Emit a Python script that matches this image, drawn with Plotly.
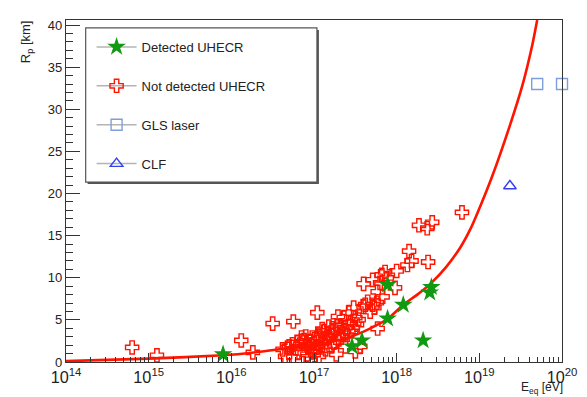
import plotly.graph_objects as go

# ---- data ----
curve_log10E = [14.0, 15.0, 15.9, 16.25, 16.6, 17.0, 17.38, 17.6, 17.89, 18.08, 18.25,
                18.42, 18.6, 18.77, 18.9, 19.02, 19.15, 19.37, 19.52, 19.64, 19.70]
curve_rp = [0.1, 0.4, 0.8, 1.1, 1.55, 2.0, 2.8, 3.6, 5.1, 6.8, 8.0,
            9.4, 11.3, 13.6, 15.95, 18.7, 21.9, 28.1, 32.8, 37.6, 40.6]

detected_log10E = [15.90, 17.46, 17.58, 17.89, 18.08, 17.89, 18.32, 18.42, 18.40]
detected_rp = [0.91, 1.85, 2.56, 5.15, 6.80, 9.16, 2.56, 8.89, 8.25]

notdet_log10E = [14.80, 15.10, 16.12, 16.26, 16.50, 16.75, 17.04,
                 16.62, 16.68, 16.74, 16.80, 16.85, 16.90, 16.98, 17.06, 17.12, 17.18,
                 16.86, 16.94, 17.02, 17.10, 17.18, 17.21, 17.26, 17.30, 17.33,
                 16.92, 16.82, 16.98, 17.06, 17.14, 17.21, 17.38, 17.50,
                 17.42, 17.50, 17.44, 17.38, 17.45, 17.54, 17.60,
                 16.75, 16.96, 17.27, 16.65, 17.56, 17.77,
                 17.48, 17.65, 17.71, 17.62, 17.76, 17.73, 17.68,
                 17.60, 17.71, 17.82, 17.86, 17.88, 17.80, 17.98, 17.77, 17.83,
                 18.00, 18.13, 18.15, 18.18, 18.38, 18.27, 18.37, 18.43, 18.79,
                 17.36, 17.52, 17.32, 17.29, 16.70, 16.99,
                 16.88, 16.95, 17.03, 17.08, 17.15, 17.00, 16.92, 17.13, 17.24,
                 17.05, 16.78, 17.17, 17.22, 17.28, 17.10, 17.35, 17.40, 17.47]
notdet_rp = [1.73, 0.79, 2.56, 1.14, 4.56, 4.80, 5.86,
             1.50, 1.73, 2.09, 2.32, 2.91, 3.03, 2.91, 3.26, 3.62, 4.21,
             2.32, 1.85, 1.73, 2.32, 3.03, 3.50, 3.62, 2.68, 2.91,
             0.91, 1.14, 1.14, 0.67, 1.50, 1.85, 1.85, 1.26,
             5.86, 5.27, 4.68, 4.09, 3.62, 5.03, 6.56,
             0.55, 0.32, 0.91, 0.67, 1.85, 3.97,
             6.45, 7.15, 6.80, 6.80, 7.04, 6.45, 5.98,
             9.28, 9.75, 10.34, 10.69, 9.98, 9.39, 8.80, 8.33, 7.74,
             10.81, 11.51, 13.16, 11.99, 11.87, 16.23, 15.88, 16.58, 17.76,
             5.27, 4.44, 4.33, 5.39, 1.85, 1.26,
             2.6, 2.4, 2.6, 2.9, 2.7, 2.2, 2.0, 1.9, 2.3,
             1.4, 1.6, 3.3, 4.0, 4.3, 3.9, 3.4, 3.2, 4.1]

gls_log10E = [19.70, 20.0]
gls_rp = [33.0, 33.0]

clf_log10E = [19.37]
clf_rp = [20.9]

legend_names = ["Detected UHECR", "Not detected UHECR", "GLS laser", "CLF"]

xlabel = "E<sub>eq</sub> [eV]"
ylabel = "R<sub>p</sub> [km]"


def to_eV(vals):
    return [10 ** v for v in vals]


RED = "#ff1400"
GREEN = "#129912"
LBLUE = "#7f9fdc"
BLUE = "#3340f0"
GRAY = "#b4b4b4"

fig = go.Figure()

fig.add_trace(go.Scatter(x=to_eV(notdet_log10E), y=notdet_rp, mode="markers",
                         marker=dict(symbol="cross-open", size=11, color=RED,
                                     line=dict(color=RED, width=1.4)),
                         showlegend=False))
fig.add_trace(go.Scatter(x=to_eV(curve_log10E), y=curve_rp, mode="lines",
                         line=dict(color=RED, width=2.6, shape="spline", smoothing=0.5),
                         showlegend=False))
fig.add_trace(go.Scatter(x=to_eV(detected_log10E), y=detected_rp, mode="markers",
                         marker=dict(symbol="star", size=14, color=GREEN,
                                     line=dict(width=0)),
                         showlegend=False, cliponaxis=False))
fig.add_trace(go.Scatter(x=to_eV(gls_log10E), y=gls_rp, mode="markers",
                         marker=dict(symbol="square-open", size=11, color=LBLUE,
                                     line=dict(color=LBLUE, width=1.4)),
                         showlegend=False, cliponaxis=False))
fig.add_trace(go.Scatter(x=to_eV(clf_log10E), y=clf_rp, mode="markers",
                         marker=dict(symbol="triangle-up-open", size=11, color=BLUE,
                                     line=dict(color=BLUE, width=1.4)),
                         showlegend=False))

leg_markers = [
    dict(symbol="star", size=14, color=GREEN, line=dict(width=0)),
    dict(symbol="cross-open", size=11, color=RED, line=dict(color=RED, width=1.4)),
    dict(symbol="square-open", size=11, color=LBLUE, line=dict(color=LBLUE, width=1.4)),
    dict(symbol="triangle-up-open", size=11, color=BLUE, line=dict(color=BLUE, width=1.4)),
]
for i, (name, mk) in enumerate(zip(legend_names, leg_markers)):
    fig.add_trace(go.Scatter(x=[None], y=[None], mode="lines+markers", name=name,
                             marker=mk, line=dict(color=GRAY, width=1.5),
                             legendgroup=f"g{i}", showlegend=True))

# page body has an 8px margin: shrink the figure and shift coordinates accordingly
OFF = 8
W, H = 587 - OFF, 397 - OFF
ML, MR, MT, MB = 66 - OFF, 17, 18 - OFF, 35
PW, PH = W - ML - MR, H - MT - MB


def px(xp):
    return (xp - OFF - ML) / PW


def py(yp):
    return (H - MB - (yp - OFF)) / PH


font = dict(family="Liberation Sans, Arial, sans-serif", size=13, color="#222")
title_font = dict(family="Liberation Sans, Arial, sans-serif", size=12, color="#222")

fig.update_layout(
    width=W, height=H,
    margin=dict(l=ML, r=MR, t=MT, b=MB),
    paper_bgcolor="white", plot_bgcolor="white",
    font=font,
    showlegend=True,
    legend=dict(x=px(92), y=py(30), xanchor="left", yanchor="top",
                bgcolor="rgba(0,0,0,0)", borderwidth=0,
                font=font,
                tracegroupgap=19, traceorder="grouped", itemwidth=40),
    xaxis=dict(type="log", range=[14, 20], dtick=1, exponentformat="power",
               showgrid=False, zeroline=False,
               showline=True, linecolor="#333", linewidth=1.3, mirror=True,
               ticks="inside", ticklen=9, tickcolor="#333", tickwidth=1,
               tickfont=font, ticklabelstandoff=1,
               minor=dict(ticks="inside", ticklen=5, tickcolor="#333", dtick="D1",
                          showgrid=False)),
    yaxis=dict(range=[0, 40.6], dtick=5, tick0=0,
               showgrid=False, zeroline=False,
               showline=True, linecolor="#333", linewidth=1.3, mirror=True,
               ticks="inside", ticklen=14, tickcolor="#333", tickwidth=1,
               tickfont=font,
               minor=dict(ticks="inside", ticklen=7, tickcolor="#333", dtick=1,
                          showgrid=False)),
    shapes=[
        dict(type="rect", xref="paper", yref="paper",
             x0=px(88), x1=px(323), y0=py(183), y1=py(28),
             line=dict(width=0), fillcolor="#555", layer="below"),
        dict(type="rect", xref="paper", yref="paper",
             x0=px(86), x1=px(321), y0=py(181), y1=py(26),
             line=dict(width=1.2, color="#555"), fillcolor="white", layer="below"),
    ],
    annotations=[
        dict(text=ylabel, xref="paper", yref="paper", x=px(26), y=py(16),
             xanchor="center", yanchor="top", textangle=-90, showarrow=False,
             font=font),
        dict(text=xlabel, xref="paper", yref="paper", x=px(572), y=py(397),
             xanchor="right", yanchor="bottom", showarrow=False, font=title_font,
             borderpad=0),
    ],
)

fig.write_html("out.html")
